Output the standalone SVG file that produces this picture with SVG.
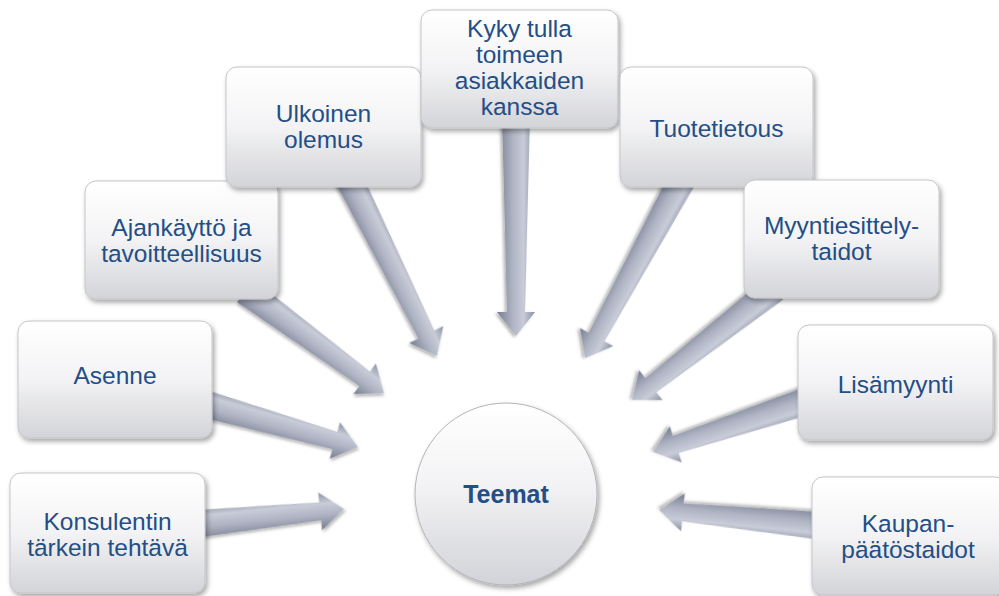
<svg xmlns="http://www.w3.org/2000/svg" width="999" height="596" viewBox="0 0 999 596">
<defs>
<linearGradient id="boxg" x1="0" y1="0" x2="0" y2="1">
<stop offset="0" stop-color="#ffffff"/>
<stop offset="0.5" stop-color="#f3f3f5"/>
<stop offset="1" stop-color="#d3d4d8"/>
</linearGradient>
<linearGradient id="circg" x1="0" y1="0" x2="0" y2="1">
<stop offset="0" stop-color="#ffffff"/>
<stop offset="0.45" stop-color="#f3f3f5"/>
<stop offset="1" stop-color="#d2d3d8"/>
</linearGradient>
<linearGradient id="arrg" x1="0" y1="0" x2="0" y2="1">
<stop offset="0" stop-color="#8a90a2"/>
<stop offset="0.3" stop-color="#c8ccd8"/>
<stop offset="0.6" stop-color="#aeb3c3"/>
<stop offset="1" stop-color="#767c8f"/>
</linearGradient>
<filter id="sh" x="-20%" y="-20%" width="140%" height="140%">
<feDropShadow dx="2" dy="3" stdDeviation="2.5" flood-color="#000" flood-opacity="0.35"/>
</filter>
<filter id="ash" x="-20%" y="-50%" width="140%" height="200%">
<feDropShadow dx="1.5" dy="2" stdDeviation="1.5" flood-color="#000" flood-opacity="0.3"/>
</filter>
</defs>
<style>
.box{fill:url(#boxg);stroke:#c4c5c9;stroke-width:1;filter:url(#sh)}
.arr{fill:url(#arrg);filter:url(#ash)}
.t{font-family:"Liberation Sans",Arial,sans-serif;font-size:24.5px;fill:#234e86;text-anchor:middle}
.tb{font-weight:bold;font-size:25px}
</style>
<rect width="999" height="596" fill="#ffffff"/>
<g id="connectors">
<path class="arr" transform="translate(205,523) rotate(-5.75)" d="M-12,-14 L115.7,-9 L115.7,-19 L139.7,0 L115.7,19 L115.7,9 L-12,14 Z"/>
<path class="arr" transform="translate(212,406) rotate(15.7)" d="M-12,-14 L127.6,-9 L127.6,-19 L151.6,0 L127.6,19 L127.6,9 L-12,14 Z"/>
<path class="arr" transform="translate(255,298) rotate(36.4)" d="M-12,-14 L136.2,-9 L136.2,-19 L160.2,0 L136.2,19 L136.2,9 L-12,14 Z"/>
<path class="arr" transform="translate(353,187) rotate(63.6)" d="M-12,-14 L164.7,-9 L164.7,-19 L188.7,0 L164.7,19 L164.7,9 L-12,14 Z"/>
<path class="arr" transform="translate(516,128) rotate(90)" d="M-12,-14 L184,-9 L184,-19 L208,0 L184,19 L184,9 L-12,14 Z"/>
<path class="arr" transform="translate(678,187) rotate(118.5)" d="M-12,-14 L170.7,-9 L170.7,-19 L194.7,0 L170.7,19 L170.7,9 L-12,14 Z"/>
<path class="arr" transform="translate(765,296) rotate(142)" d="M-12,-14 L144.8,-9 L144.8,-19 L168.8,0 L144.8,19 L144.8,9 L-12,14 Z"/>
<path class="arr" transform="translate(798,404) rotate(161.7)" d="M-12,-14 L128.7,-9 L128.7,-19 L152.7,0 L128.7,19 L128.7,9 L-12,14 Z"/>
<path class="arr" transform="translate(812,525) rotate(185.6)" d="M-12,-14 L129.7,-9 L129.7,-19 L153.7,0 L129.7,19 L129.7,9 L-12,14 Z"/>
</g>
<g id="n-teemat">
<circle cx="506" cy="494" r="91" fill="url(#circg)" stroke="#b3b4b9" stroke-width="1" filter="url(#sh)"/>
<text class="t tb" x="506" y="503">Teemat</text>
</g>
<g id="n-konsulentin">
<rect class="box" x="10" y="473" width="195" height="120" rx="11"/>
<text class="t" x="107.5" y="530">Konsulentin</text>
<text class="t" x="107.5" y="556">tärkein tehtävä</text>
</g>
<g id="n-asenne">
<rect class="box" x="18" y="321" width="194" height="117" rx="11"/>
<text class="t" x="115" y="384">Asenne</text>
</g>
<g id="n-ajankaytto">
<rect class="box" x="85" y="181" width="193" height="118" rx="11"/>
<text class="t" x="181.5" y="236">Ajankäyttö ja</text>
<text class="t" x="181.5" y="262">tavoitteellisuus</text>
</g>
<g id="n-ulkoinen">
<rect class="box" x="226" y="67" width="195" height="120" rx="11"/>
<text class="t" x="323.5" y="122">Ulkoinen</text>
<text class="t" x="323.5" y="148">olemus</text>
</g>
<g id="n-kyky">
<rect class="box" x="421" y="10" width="197" height="118" rx="11"/>
<text class="t" x="519.5" y="37">Kyky tulla</text>
<text class="t" x="519.5" y="63">toimeen</text>
<text class="t" x="519.5" y="89">asiakkaiden</text>
<text class="t" x="519.5" y="115">kanssa</text>
</g>
<g id="n-tuotetietous">
<rect class="box" x="620" y="67" width="193" height="120" rx="11"/>
<text class="t" x="716.5" y="137">Tuotetietous</text>
</g>
<g id="n-myyntiesittely">
<rect class="box" x="744" y="180" width="195" height="118" rx="11"/>
<text class="t" x="841.5" y="234">Myyntiesittely-</text>
<text class="t" x="841.5" y="260">taidot</text>
</g>
<g id="n-lisamyynti">
<rect class="box" x="798" y="325" width="195" height="115" rx="11"/>
<text class="t" x="895.5" y="393">Lisämyynti</text>
</g>
<g id="n-kaupan">
<rect class="box" x="812" y="477" width="194" height="118" rx="11"/>
<text class="t" x="908" y="532">Kaupan-</text>
<text class="t" x="908" y="558">päätöstaidot</text>
</g>
</svg>
